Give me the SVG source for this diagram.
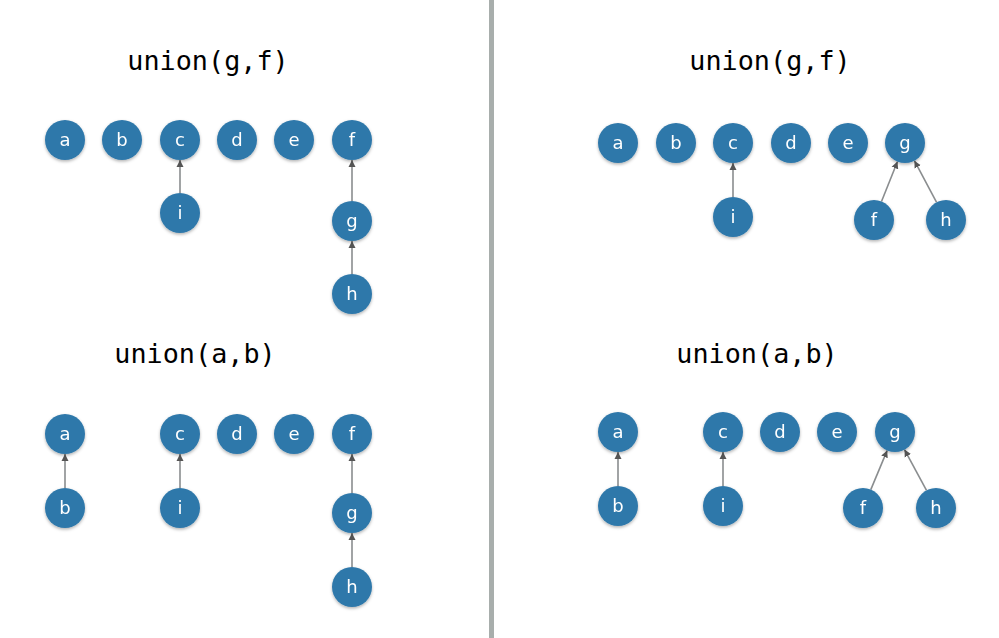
<svg xmlns="http://www.w3.org/2000/svg" width="999" height="638" viewBox="0 0 999 638">
<style>
.title{font-family:"DejaVu Sans Mono","Liberation Mono",monospace;font-size:26.8px;fill:#000;text-anchor:middle}
.node circle{fill:#2f78aa}
.node text{font-family:"DejaVu Sans","Noto Sans",sans-serif;font-size:18px;fill:#fff;text-anchor:middle;dominant-baseline:central}
.edge{stroke:#8a8d8f;stroke-width:1.6;fill:none;marker-end:url(#ah)}
</style>
<defs>
<marker id="ah" markerUnits="userSpaceOnUse" markerWidth="8" markerHeight="8" refX="7" refY="4" orient="auto">
<path d="M0,0.5 L7,4 L0,7.5 Z" fill="#555"/>
</marker>
<filter id="sh" x="-30%" y="-30%" width="160%" height="160%">
<feDropShadow dx="0" dy="1.5" stdDeviation="1.5" flood-color="#000" flood-opacity="0.3"/>
</filter>
</defs>
<rect width="999" height="638" fill="#fff"/>
<rect x="489" y="0" width="5" height="638" fill="#a8aeac"/>
<text class="title" x="208" y="70">union(g,f)</text>
<text class="title" x="770" y="70">union(g,f)</text>
<text class="title" x="195" y="363">union(a,b)</text>
<text class="title" x="757" y="363">union(a,b)</text>
<g id="connectors">
<line class="edge" x1="180" y1="193" x2="180" y2="160"/>
<line class="edge" x1="352" y1="201" x2="352" y2="160"/>
<line class="edge" x1="352" y1="274" x2="352" y2="241"/>
<line class="edge" x1="733" y1="197" x2="733" y2="163"/>
<line class="edge" x1="881.5" y1="201.5" x2="897.5" y2="161.5"/>
<line class="edge" x1="936.6" y1="202.3" x2="914.4" y2="160.7"/>
<line class="edge" x1="65" y1="488" x2="65" y2="454"/>
<line class="edge" x1="180" y1="488" x2="180" y2="454"/>
<line class="edge" x1="352" y1="493" x2="352" y2="454"/>
<line class="edge" x1="352" y1="567" x2="352" y2="533"/>
<line class="edge" x1="618" y1="486" x2="618" y2="452"/>
<line class="edge" x1="723" y1="486" x2="723" y2="452"/>
<line class="edge" x1="870.8" y1="489.6" x2="887.2" y2="450.4"/>
<line class="edge" x1="926.5" y1="490.4" x2="904.5" y2="449.6"/>
</g>
<g filter="url(#sh)">
<g id="tl-a" class="node"><circle cx="65" cy="140" r="20"/><text x="65" y="139">a</text></g>
<g id="tl-b" class="node"><circle cx="122" cy="140" r="20"/><text x="122" y="139">b</text></g>
<g id="tl-c" class="node"><circle cx="180" cy="140" r="20"/><text x="180" y="139">c</text></g>
<g id="tl-d" class="node"><circle cx="237" cy="140" r="20"/><text x="237" y="139">d</text></g>
<g id="tl-e" class="node"><circle cx="294" cy="140" r="20"/><text x="294" y="139">e</text></g>
<g id="tl-f" class="node"><circle cx="352" cy="140" r="20"/><text x="352" y="139">f</text></g>
<g id="tl-i" class="node"><circle cx="180" cy="213" r="20"/><text x="180" y="212">i</text></g>
<g id="tl-g" class="node"><circle cx="352" cy="221" r="20"/><text x="352" y="220">g</text></g>
<g id="tl-h" class="node"><circle cx="352" cy="294" r="20"/><text x="352" y="293">h</text></g>

<g id="tr-a" class="node"><circle cx="618" cy="143" r="20"/><text x="618" y="142">a</text></g>
<g id="tr-b" class="node"><circle cx="676" cy="143" r="20"/><text x="676" y="142">b</text></g>
<g id="tr-c" class="node"><circle cx="733" cy="143" r="20"/><text x="733" y="142">c</text></g>
<g id="tr-d" class="node"><circle cx="791" cy="143" r="20"/><text x="791" y="142">d</text></g>
<g id="tr-e" class="node"><circle cx="848" cy="143" r="20"/><text x="848" y="142">e</text></g>
<g id="tr-g" class="node"><circle cx="905" cy="143" r="20"/><text x="905" y="142">g</text></g>
<g id="tr-i" class="node"><circle cx="733" cy="217" r="20"/><text x="733" y="216">i</text></g>
<g id="tr-f" class="node"><circle cx="874" cy="220" r="20"/><text x="874" y="219">f</text></g>
<g id="tr-h" class="node"><circle cx="946" cy="220" r="20"/><text x="946" y="219">h</text></g>

<g id="bl-a" class="node"><circle cx="65" cy="434" r="20"/><text x="65" y="433">a</text></g>
<g id="bl-c" class="node"><circle cx="180" cy="434" r="20"/><text x="180" y="433">c</text></g>
<g id="bl-d" class="node"><circle cx="237" cy="434" r="20"/><text x="237" y="433">d</text></g>
<g id="bl-e" class="node"><circle cx="294" cy="434" r="20"/><text x="294" y="433">e</text></g>
<g id="bl-f" class="node"><circle cx="352" cy="434" r="20"/><text x="352" y="433">f</text></g>
<g id="bl-b" class="node"><circle cx="65" cy="508" r="20"/><text x="65" y="507">b</text></g>
<g id="bl-i" class="node"><circle cx="180" cy="508" r="20"/><text x="180" y="507">i</text></g>
<g id="bl-g" class="node"><circle cx="352" cy="513" r="20"/><text x="352" y="512">g</text></g>
<g id="bl-h" class="node"><circle cx="352" cy="587" r="20"/><text x="352" y="586">h</text></g>

<g id="br-a" class="node"><circle cx="618" cy="432" r="20"/><text x="618" y="431">a</text></g>
<g id="br-c" class="node"><circle cx="723" cy="432" r="20"/><text x="723" y="431">c</text></g>
<g id="br-d" class="node"><circle cx="780" cy="432" r="20"/><text x="780" y="431">d</text></g>
<g id="br-e" class="node"><circle cx="837" cy="432" r="20"/><text x="837" y="431">e</text></g>
<g id="br-g" class="node"><circle cx="895" cy="432" r="20"/><text x="895" y="431">g</text></g>
<g id="br-b" class="node"><circle cx="618" cy="506" r="20"/><text x="618" y="505">b</text></g>
<g id="br-i" class="node"><circle cx="723" cy="506" r="20"/><text x="723" y="505">i</text></g>
<g id="br-f" class="node"><circle cx="863" cy="508" r="20"/><text x="863" y="507">f</text></g>
<g id="br-h" class="node"><circle cx="936" cy="508" r="20"/><text x="936" y="507">h</text></g>
</g>
</svg>
